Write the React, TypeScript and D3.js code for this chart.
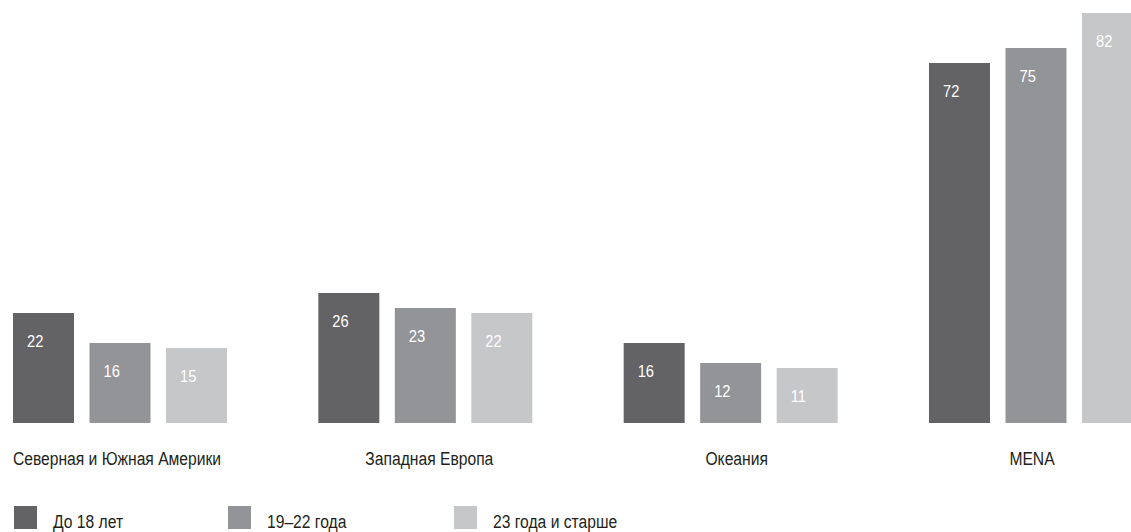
import React from "react";
import * as d3 from "d3";

const categories = ["Северная и Южная Америки", "Западная Европа", "Океания", "MENA"];
const seriesNames = ["До 18 лет", "19–22 года", "23 года и старше"];
const under18 = [22, 26, 16, 72];
const age19to22 = [16, 23, 12, 75];
const age23plus = [15, 22, 11, 82];
const colors = ["#636365", "#939497", "#c6c7c9"];

const W = 1131;
const H = 532;
const FONT = "'Liberation Sans', Arial, sans-serif";
const NARROW = 0.87;
const labelShift = [-3, 4, 6, -4];

function NarrowText(props: {
  x: number;
  y: number;
  size: number;
  fill: string;
  anchor?: string;
  sx?: number;
  children: React.ReactNode;
}) {
  const sx = props.sx ?? NARROW;
  return (
    <text
      transform={`translate(${props.x},${props.y}) scale(${sx},1)`}
      fontSize={props.size}
      fill={props.fill}
      textAnchor={props.anchor ?? "start"}
    >
      {props.children}
    </text>
  );
}

export default function App() {
  const series = [under18, age19to22, age23plus];
  const groupStep = 305.33;
  const groupWidth = 214;
  const x0 = d3
    .scaleBand<string>()
    .domain(categories)
    .range([13, 13 + groupStep * (categories.length - 1) + groupWidth])
    .paddingInner(1 - groupWidth / groupStep)
    .paddingOuter(0);
  const x1 = d3
    .scaleBand<string>()
    .domain(seriesNames)
    .range([0, x0.bandwidth()])
    .paddingInner(0.2026)
    .paddingOuter(0);
  const y = d3.scaleLinear().domain([0, 82]).range([423, 13]);

  const legendX = [14, 228, 454];

  return (
    <svg
      width={W}
      height={H}
      style={{ position: "absolute", left: 0, top: 0, display: "block" }}
      fontFamily={FONT}
    >
      <rect width={W} height={H} fill="#ffffff" />
      {categories.map((cat, ci) => {
        const gx = x0(cat)!;
        return (
          <g key={cat}>
            {seriesNames.map((s, si) => {
              const v = series[si][ci];
              const bx = gx + x1(s)!;
              const by = y(v);
              return (
                <g key={s}>
                  <rect
                    x={bx}
                    y={by}
                    width={x1.bandwidth()}
                    height={y(0) - by}
                    fill={colors[si]}
                  />
                  <NarrowText x={bx + 14} y={by + 34} size={16} fill="#ffffff" sx={0.92}>
                    {v}
                  </NarrowText>
                </g>
              );
            })}
            <NarrowText
              x={gx + x0.bandwidth() / 2 + labelShift[ci]}
              y={465}
              size={18}
              fill="#231f20"
              anchor="middle"
            >
              {cat}
            </NarrowText>
          </g>
        );
      })}
      {seriesNames.map((s, si) => (
        <g key={s}>
          <rect x={legendX[si]} y={506} width={23} height={23} fill={colors[si]} />
          <NarrowText x={legendX[si] + 39} y={528} size={18} fill="#231f20">
            {s}
          </NarrowText>
        </g>
      ))}
    </svg>
  );
}
